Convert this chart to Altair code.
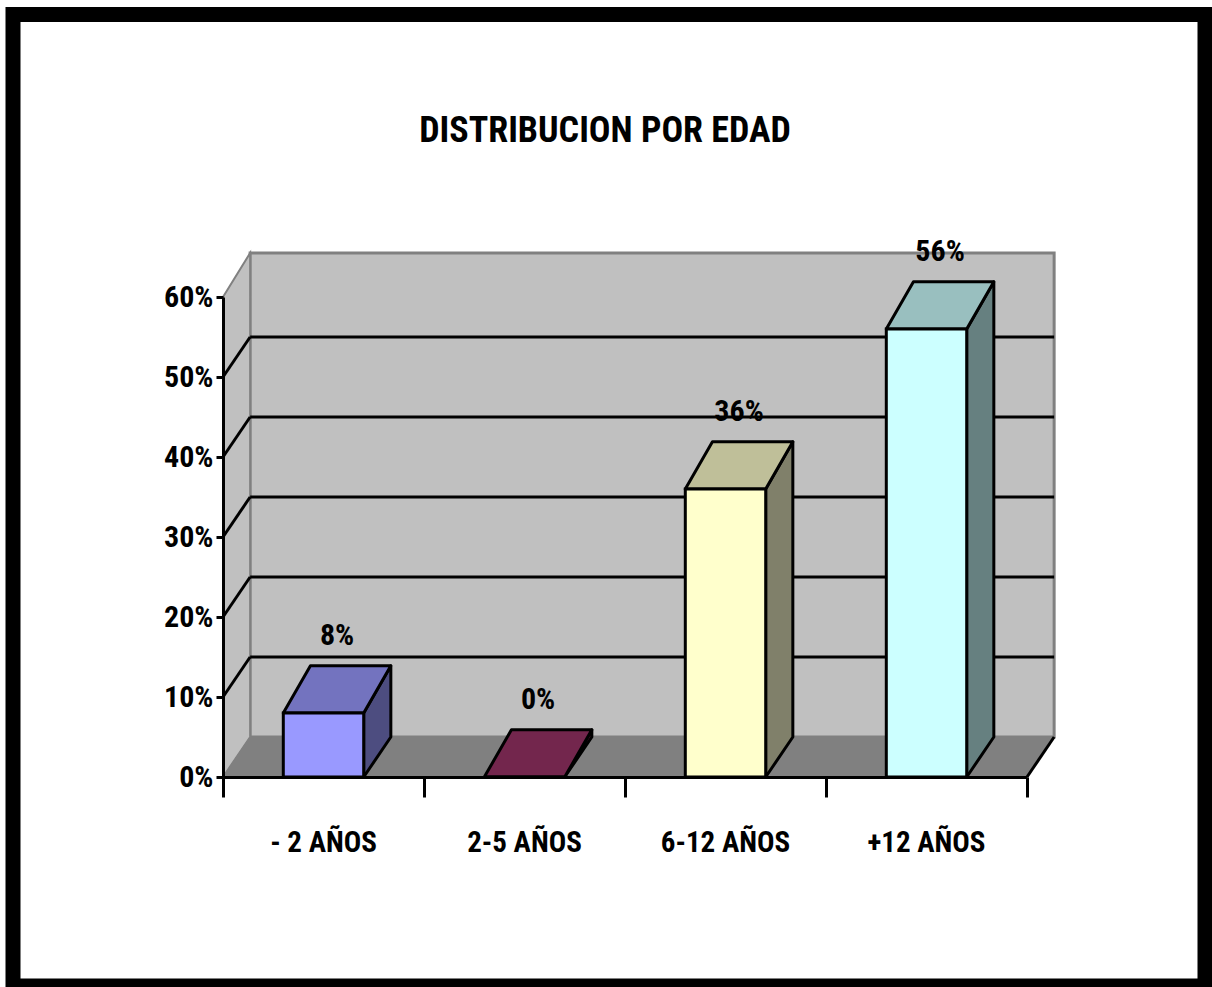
import altair as alt
import pandas as pd

# ---------------- data ----------------
TITLE = "DISTRIBUCION POR EDAD"
categories = ["- 2 AÑOS", "2-5 AÑOS", "6-12 AÑOS", "+12 AÑOS"]
values = [0.08, 0.0, 0.36, 0.56]
front_colors = ["#9999FF", "#993366", "#FFFFCC", "#CCFFFF"]
top_colors = ["#7373BF", "#73264D", "#BFBF99", "#99BFBF"]
side_colors = ["#4D4D80", "#4D1A33", "#80806A", "#668080"]
y_ticks = [0.0, 0.1, 0.2, 0.3, 0.4, 0.5, 0.6]
grid_values = [0.1, 0.2, 0.3, 0.4, 0.5]

# ---------------- style constants (3-D projection, in data units) ----------------
N = len(categories)
YMAX = 0.6
DX = 0.135        # depth shift along x
DY = 0.05         # depth shift of floor / walls along y
WALL_DY = 0.055   # depth shift of the wall tops
TOP_DY = 0.059    # depth shift of the bar tops
BAR_L, BAR_R = 0.30, 0.70
LABEL_DY = 0.085
FONT = ("Roboto Condensed, Noto Sans Condensed, Liberation Sans Narrow, Arial Narrow, "
        "Liberation Sans, sans-serif")

W, H = 804, 480
PAD = {"left": 223, "top": 297, "right": 1212 - 223 - W, "bottom": 987 - 297 - H}

xs = alt.Scale(domain=[0, N], nice=False, zero=False)
ys = alt.Scale(domain=[0, YMAX], nice=False, zero=False)
xaxis = alt.Axis(values=list(range(N + 1)), labels=False, tickSize=20, tickWidth=3,
                 tickColor="black", domainColor="black", domainWidth=3, grid=False,
                 title=None, zindex=1)
yaxis = alt.Axis(values=y_ticks, format=".0%", tickSize=7, tickWidth=3, tickColor="black",
                 domainColor="black", domainWidth=3, grid=False, title=None,
                 labelFont=FONT, labelFontSize=30, labelFontWeight="bold",
                 labelColor="black", labelPadding=3, zindex=1)


def X(f):
    return alt.X(f, type="quantitative", scale=xs, axis=xaxis)


def Y(f):
    return alt.Y(f, type="quantitative", scale=ys, axis=yaxis)


# ---------------- walls & floor ----------------
back = pd.DataFrame({"x": [DX], "x2": [N + DX], "y": [DY], "y2": [YMAX + WALL_DY]})
back_wall = alt.Chart(back).mark_rect(fill="#C0C0C0", stroke="#808080", strokeWidth=3).encode(
    x=X("x"), x2="x2", y=Y("y"), y2="y2")

left = pd.DataFrame({"x": [0, DX], "y": [0, DY], "y2": [YMAX, YMAX + WALL_DY]})
left_wall = alt.Chart(left).mark_area(orient="vertical", fill="#C0C0C0", stroke="#808080",
                                      strokeWidth=2).encode(
    x=X("x"), y=Y("y"), y2="y2")

floor = pd.DataFrame({"y": [0, DY], "x": [0, DX], "x2": [N, N + DX]})
floor_m = alt.Chart(floor).mark_area(orient="horizontal", fill="#808080", stroke="#808080",
                                     strokeWidth=1).encode(
    y=Y("y"), x=X("x"), x2="x2")

edge = pd.DataFrame({"x": [N], "x2": [N + DX], "y": [0], "y2": [DY]})
floor_edge = alt.Chart(edge).mark_rule(color="black", strokeWidth=3).encode(
    x=X("x"), x2="x2", y=Y("y"), y2="y2")

# gridlines on back wall and left wall
g_rows = []
for v in grid_values:
    g_rows.append({"x": DX, "x2": N + DX, "y": v + DY, "y2": v + DY})
    g_rows.append({"x": 0, "x2": DX, "y": v, "y2": v + DY})
grid = alt.Chart(pd.DataFrame(g_rows)).mark_rule(color="black", strokeWidth=3).encode(
    x=X("x"), x2="x2", y=Y("y"), y2="y2")

# ---------------- bars ----------------
front_rows, side_rows, top_rows, lab_rows = [], [], [], []
for i, (c, v) in enumerate(zip(categories, values)):
    x0, x1 = i + BAR_L, i + BAR_R
    front_rows.append({"cat": c, "x": x0, "x2": x1, "y": 0, "y2": v, "fill": front_colors[i]})
    side_rows.append({"cat": c, "x": x1, "y": 0, "y2": v, "fill": side_colors[i]})
    side_rows.append({"cat": c, "x": x1 + DX, "y": DY, "y2": v + TOP_DY, "fill": side_colors[i]})
    top_rows.append({"cat": c, "y": v, "x": x0, "x2": x1, "fill": top_colors[i]})
    top_rows.append({"cat": c, "y": v + TOP_DY, "x": x0 + DX, "x2": x1 + DX, "fill": top_colors[i]})
    lab_rows.append({"cat": c, "x": i + 0.5 + DX / 2, "y": v + LABEL_DY, "v": v})

sides = alt.Chart(pd.DataFrame(side_rows)).mark_area(
    orient="vertical", stroke="black", strokeWidth=3, strokeJoin="round").encode(
    x=X("x"), y=Y("y"), y2="y2", detail="cat:N", fill=alt.Fill("fill:N", scale=None))

tops = alt.Chart(pd.DataFrame(top_rows)).mark_area(
    orient="horizontal", stroke="black", strokeWidth=3, strokeJoin="round").encode(
    y=Y("y"), x=X("x"), x2="x2", detail="cat:N", fill=alt.Fill("fill:N", scale=None))

fronts = alt.Chart(pd.DataFrame(front_rows)).mark_rect(
    stroke="black", strokeWidth=3).encode(
    x=X("x"), x2="x2", y=Y("y"), y2="y2", fill=alt.Fill("fill:N", scale=None))

labels = alt.Chart(pd.DataFrame(lab_rows)).mark_text(
    font=FONT, fontSize=30, fontWeight="bold", color="black", baseline="alphabetic",
    align="center").encode(
    x=X("x"), y=Y("y"), text=alt.Text("v:Q", format=".0%"))

cat_df = pd.DataFrame({"cat": categories, "x": [i + 0.5 for i in range(N)]})
cat_labels = alt.Chart(cat_df).mark_text(
    font=FONT, fontSize=29, fontWeight="bold", color="black", baseline="alphabetic",
    align="center").encode(
    x=X("x"), y=alt.value(H + 75), text="cat:N")

title = alt.Chart(pd.DataFrame({"t": [TITLE]})).mark_text(
    font=FONT, fontSize=36, fontWeight="bold", color="black", baseline="alphabetic",
    align="center").encode(
    x=alt.value(605 - PAD["left"]), y=alt.value(142 - PAD["top"]), text="t:N")

frame = alt.Chart(pd.DataFrame({"k": [0]})).mark_rect(
    fill="transparent", stroke="black", strokeWidth=15).encode(
    x=alt.value(13 - PAD["left"]), x2=alt.value(1205 - PAD["left"]),
    y=alt.value(14.5 - PAD["top"]), y2=alt.value(986 - PAD["top"]))

chart = alt.layer(
    back_wall, left_wall, floor_m, grid, floor_edge, sides, tops, fronts,
    labels, cat_labels, title, frame
).properties(
    width=W, height=H, padding=PAD, background="white",
    autosize=alt.AutoSizeParams(type="none")
).configure_view(stroke="transparent")

chart.save("out.html", embed_options={"renderer": "svg", "actions": False})
